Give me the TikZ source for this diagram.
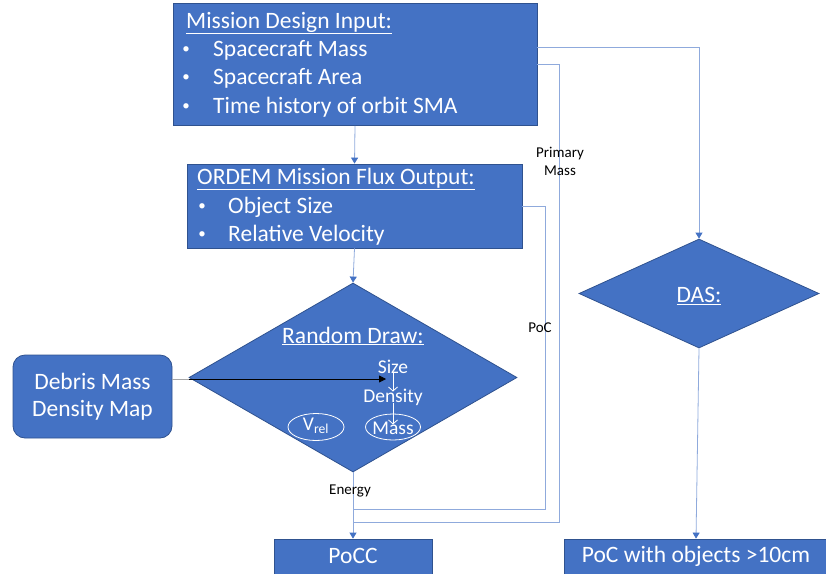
\documentclass[tikz,border=0pt]{standalone}
\usepackage{fontspec}
\setmainfont{Carlito}
\usetikzlibrary{shapes.geometric,arrows.meta}
\definecolor{boxblue}{HTML}{4472C4}
\definecolor{boxedge}{HTML}{2F528F}
\definecolor{linkblue}{HTML}{8FAADC}
\definecolor{tipblue}{HTML}{4472C4}
\tikzset{
  block/.style={draw=boxedge, fill=boxblue, line width=0.8pt, inner sep=0pt},
  rblock/.style={block, rounded corners=12pt},
  decision/.style={block, shape=diamond},
  big/.style={text=white, font=\fontsize{23.5}{28}\selectfont, inner sep=0pt},
  dot/.style={text=white, font=\fontsize{15}{18}\selectfont, inner sep=0pt},
  small/.style={text=white, font=\fontsize{19.5}{23}\selectfont, inner sep=0pt},
  note/.style={text=black, font=\fontsize{15}{18}\selectfont, inner sep=0pt, align=center},
  link/.style={draw=linkblue, line width=0.8pt},
  tip/.style={-{Triangle[width=7pt,length=6pt,color=tipblue]}},
  wtip/.style={draw=white, line width=0.8pt, -{Straight Barb[length=4pt,width=9pt]}},
}
\begin{document}
\begin{tikzpicture}[x=1pt,y=-1pt]
\useasboundingbox (0,0) rectangle (826,573);

% boxes
\node[block, minimum width=364pt, minimum height=122pt] (mdi) at (355,64.5) {};
\node[block, minimum width=335pt, minimum height=84pt] (ordem) at (354.5,206) {};
\node[decision, minimum width=328pt, minimum height=189pt] (rd) at (353,377.5) {};
\node[rblock, minimum width=159pt, minimum height=83pt] (deb) at (92.5,396.5) {};
\node[decision, minimum width=240pt, minimum height=109pt] (das) at (699,293.5) {};
\node[block, minimum width=158pt, minimum height=36pt] (pocc) at (353,557) {};
\node[block, minimum width=264pt, minimum height=36pt] (poc10) at (696,557) {};

% text of the input box
\node[big, anchor=west] (mdit) at (186,23) {\underline{Mission Design Input:}};
\node[dot] (mdib1) at (186,50) {•};
\node[big, anchor=west] (mdi1) at (213,50) {Spacecraft Mass};
\node[dot] (mdib2) at (186,78) {•};
\node[big, anchor=west] (mdi2) at (213,78) {Spacecraft Area};
\node[dot] (mdib3) at (186,107) {•};
\node[big, anchor=west] (mdi3) at (213,107) {Time history of orbit SMA};

% text of the flux box
\node[big, anchor=west] (ordemt) at (197,179) {\underline{ORDEM Mission Flux Output:}};
\node[dot] (ordemb1) at (202,207) {•};
\node[big, anchor=west] (ordem1) at (228,207) {Object Size};
\node[dot] (ordemb2) at (202,235) {•};
\node[big, anchor=west] (ordem2) at (228,235) {Relative Velocity};

% random draw
\node[big] (rdt) at (353,336) {\underline{Random Draw:}};
\node[small] (sz) at (393,367) {Size};
\node[small] (dens) at (393,397) {Density};
\node[small] (mass) at (393,428) {Mass};
\node[draw=white, line width=0.8pt, ellipse, minimum width=55pt, minimum height=26pt, inner sep=0pt] (massring) at (393,427) {};
\node[draw=white, line width=0.8pt, ellipse, minimum width=56pt, minimum height=27pt, inner sep=0pt] (vring) at (316,427) {};
\node[small] (vrel) at (316,426) {V\textsubscript{rel}};
\draw[wtip] ([yshift=2pt]sz.south) -- ([yshift=-3pt]dens.north);
\draw[wtip] ([yshift=2pt]dens.south) -- ([yshift=-3pt]mass.north);

% debris map
\node[big] (deb1) at (92.5,381) {Debris Mass};
\node[big] (deb2) at (92.5,410) {Density Map};
\coordinate (drawin) at (386,379);
\draw[draw=gray!70, line width=0.8pt] (deb.east |- drawin) -- (rd.west |- drawin);
\draw[line width=0.8pt, -{Triangle[width=7pt,length=7pt]}] (rd.west |- drawin) -- (drawin);

% DAS and output texts
\node[big] (dast) at (699,296) {\underline{DAS:}};
\node[big] (pocct) at (353,556) {PoCC};
\node[big] (poc10t) at (696,556) {PoC with objects >10cm};

% connectors
\coordinate (pocturn) at (545,509);
\coordinate (massturn) at (559,522);
\coordinate (pocjoin) at (353,509);
\coordinate (massjoin) at (353,522);
\draw[link, tip] (mdi.south) -- (ordem.north);
\draw[link, tip] (ordem.south) -- (rd.north);
\draw[link, tip] (rd.south) -- (pocc.north);
\draw[link, tip] ([yshift=17.5pt]mdi.east) -| (das.north);
\draw[link, tip] (das.south) -- (poc10.north);
\draw[link] (ordem.east) -| (pocturn) -- (pocjoin);
\draw[link] (mdi.east) -| (massturn) -- (massjoin);

% connector labels
\node[note] (lblmass) at (560,161) {Primary\\Mass};
\node[note] (lblpoc) at (540,328) {PoC};
\node[note] (lblen) at (350,491) {Energy};
\end{tikzpicture}
\end{document}
